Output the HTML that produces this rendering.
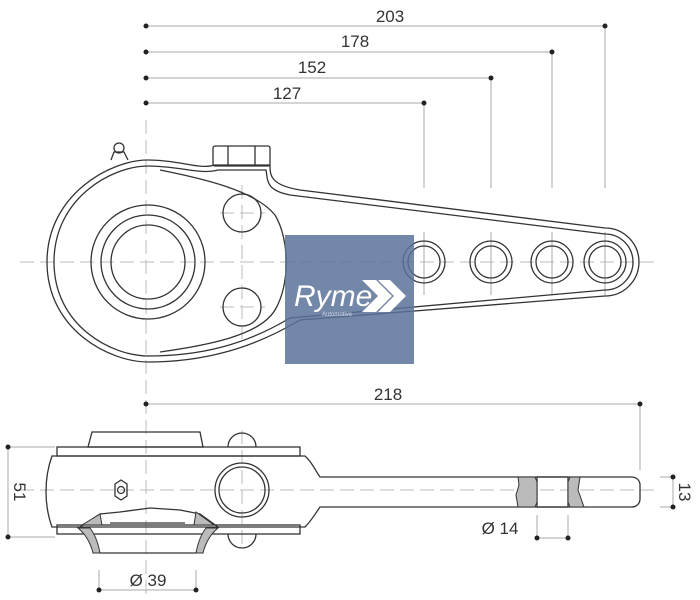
<!DOCTYPE html>
<html><head><meta charset="utf-8"><style>
html,body{margin:0;padding:0;background:#fff;width:700px;height:600px;overflow:hidden}
text{font-family:"Liberation Sans",sans-serif;fill:#333}
</style></head><body>
<svg width="700" height="600" viewBox="0 0 700 600" xmlns="http://www.w3.org/2000/svg">
<g stroke="#bbb" stroke-width="1" fill="none" stroke-dasharray="14,6">
<line x1="20" y1="262" x2="660" y2="262"/>
<line x1="146" y1="120" x2="146" y2="600"/>
<line x1="242" y1="185" x2="242" y2="340"/>
<line x1="220" y1="213" x2="265" y2="213"/>
<line x1="220" y1="307" x2="265" y2="307"/>
<line x1="20" y1="490" x2="660" y2="490"/>
<line x1="242" y1="430" x2="242" y2="550"/>
</g>
<g stroke="#aaa" stroke-width="1" fill="none">
<line x1="424" y1="103" x2="424" y2="188"/><line x1="491" y1="78" x2="491" y2="188"/>
<line x1="552" y1="52" x2="552" y2="188"/><line x1="605" y1="26" x2="605" y2="188"/>
<line x1="424" y1="232" x2="424" y2="295"/><line x1="491" y1="232" x2="491" y2="295"/>
<line x1="552" y1="232" x2="552" y2="295"/><line x1="605" y1="232" x2="605" y2="295"/>
<line x1="146" y1="26" x2="605" y2="26"/><line x1="146" y1="52" x2="552" y2="52"/>
<line x1="146" y1="78" x2="491" y2="78"/><line x1="146" y1="103" x2="424" y2="103"/>
<line x1="146" y1="404" x2="640" y2="404"/><line x1="640" y1="404" x2="640" y2="470"/>
<line x1="8" y1="447" x2="8" y2="537"/><line x1="8" y1="447" x2="55" y2="447"/><line x1="8" y1="537" x2="55" y2="537"/>
<line x1="660" y1="477" x2="675" y2="477"/><line x1="660" y1="507" x2="675" y2="507"/><line x1="673" y1="477" x2="673" y2="507"/>
<line x1="537" y1="515" x2="537" y2="540"/><line x1="568" y1="515" x2="568" y2="540"/><line x1="537" y1="538" x2="568" y2="538"/>
<line x1="99" y1="570" x2="99" y2="592"/><line x1="196" y1="570" x2="196" y2="592"/><line x1="99" y1="590" x2="196" y2="590"/>
</g>
<g fill="#222">
<circle cx="146" cy="26" r="2.5"/><circle cx="605" cy="26" r="2.5"/><circle cx="146" cy="52" r="2.5"/><circle cx="552" cy="52" r="2.5"/>
<circle cx="146" cy="78" r="2.5"/><circle cx="491" cy="78" r="2.5"/><circle cx="146" cy="103" r="2.5"/><circle cx="424" cy="103" r="2.5"/>
<circle cx="146" cy="404" r="2.5"/><circle cx="640" cy="404" r="2.5"/><circle cx="8" cy="447" r="2.5"/><circle cx="8" cy="537" r="2.5"/>
<circle cx="673" cy="477" r="2.5"/><circle cx="673" cy="507" r="2.5"/><circle cx="537" cy="538" r="2.5"/><circle cx="568" cy="538" r="2.5"/>
<circle cx="99" cy="590" r="2.5"/><circle cx="196" cy="590" r="2.5"/>
</g>
<g font-size="17">
<text x="390" y="22" text-anchor="middle">203</text>
<text x="355" y="47" text-anchor="middle">178</text>
<text x="312" y="73" text-anchor="middle">152</text>
<text x="287" y="99" text-anchor="middle">127</text>
<text x="388" y="400" text-anchor="middle">218</text>
<text x="500" y="534" text-anchor="middle">Ø 14</text>
<text x="148" y="586" text-anchor="middle">Ø 39</text>
<text transform="translate(14,492) rotate(90)" text-anchor="middle">51</text>
<text transform="translate(679,492) rotate(90)" text-anchor="middle">13</text>
</g>
<g stroke="#333" stroke-width="1.3" fill="none">
<path d="M148,160 C110,160 47,195 47,262 C47,330 110,362 148,362 C200,362 250,350 300,320 L605,296 A34,34 0 0 0 605,228 L300,190 C270,185 270,175 270,165 L214,165 C200,170 180,160 148,160 Z"/>
<path d="M148,166 C112,166 54,198 54,262 C54,326 112,356 148,356 C200,356 245,345 290,318 L605,290 A28,28 0 0 0 605,234 L290,195 C265,190 268,180 266,170 L218,170 C200,175 180,166 148,166 Z"/>
<path d="M160,170 C200,178 255,190 275,215 C290,240 290,285 275,310 C260,335 210,345 160,352"/>
<rect x="213" y="146" width="57" height="20" rx="2"/>
<line x1="228" y1="146" x2="228" y2="166"/><line x1="255" y1="146" x2="255" y2="166"/>
<circle cx="119" cy="148" r="5"/><path d="M111,160 L114,152 L124,152 L128,160"/>
<circle cx="148" cy="262" r="57"/><circle cx="148" cy="262" r="47"/><circle cx="148" cy="262" r="37"/>
<circle cx="242" cy="213" r="19"/><circle cx="242" cy="307" r="19"/>
<circle cx="424" cy="262" r="21"/><circle cx="424" cy="262" r="16"/>
<circle cx="491" cy="262" r="21"/><circle cx="491" cy="262" r="16"/>
<circle cx="552" cy="262" r="21"/><circle cx="552" cy="262" r="16"/>
<circle cx="605" cy="262" r="21"/><circle cx="605" cy="262" r="16"/>
<path d="M92,432 L200,432 L203,447 L88,447 Z"/>
<rect x="57" y="447" width="243" height="9"/>
<rect x="57" y="525" width="243" height="9"/>
<path d="M52,456 L305,456 C312,462 315,470 320,477 L632,477 A8,8 0 0 1 640,485 L640,499 A8,8 0 0 1 632,507 L320,507 C315,514 312,520 305,527 L52,527 C44,505 44,478 52,456 Z"/>
<path d="M228,447 A14,14 0 0 1 256,447"/><path d="M228,534 A14,14 0 0 0 256,534"/>
<circle cx="242" cy="490" r="27"/><circle cx="242" cy="490" r="23"/>
<polygon points="115,484 121,480 127,484 127,496 121,500 115,496"/><circle cx="121" cy="490" r="3.5"/>
<path d="M80,527 L100,514 L120,512 L150,508 L180,510 L200,514 L218,527"/>
<line x1="110" y1="523" x2="185" y2="523"/>
<path d="M100,553 L196,553"/>
<rect x="537" y="477" width="31" height="30" fill="none"/>
</g>
<g fill="#bbb" stroke="#333" stroke-width="1">
<path d="M518,477 L535,477 L537,482 L537,502 L535,507 L518,507 L516,495 L519,485 Z"/>
<path d="M570,477 L580,477 L578,490 L584,507 L570,507 L568,502 L568,482 Z"/>
<path d="M78,528 L90,528 Q97,537 100,553 L93,553 Q89,537 78,528 Z"/>
<path d="M218,528 L206,528 Q199,537 196,553 L203,553 Q207,537 218,528 Z"/>
<path d="M82,525 L100,514 L102,525 Z"/>
<path d="M214,525 L196,512 L194,525 Z"/>
</g>
<rect x="285" y="235" width="129" height="129" fill="#5a729a" opacity="0.85"/>
<text x="294" y="306" font-size="30" font-style="italic" style="fill:#fff">Ryme</text>
<text x="322" y="316" font-size="6" style="fill:#dde">Automotive</text>
<path d="M362,280 L376,280 L392,296 L376,312 L362,312 L378,296 Z M378,280 L390,280 L406,296 L390,312 L378,312 L394,296 Z" fill="#fff"/>
</svg>
</body></html>
